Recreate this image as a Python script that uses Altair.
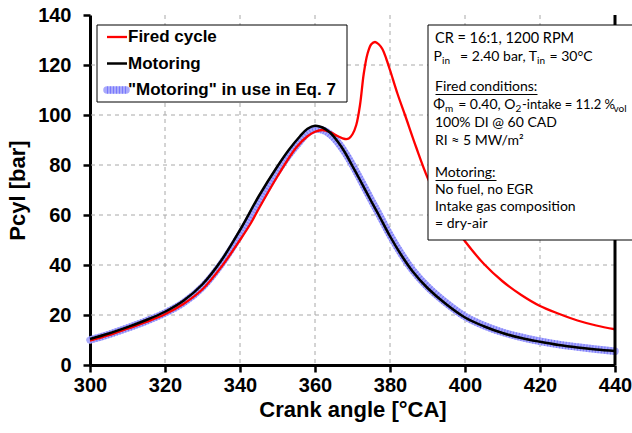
import altair as alt
import pandas as pd

# ---------------- data ----------------
mot_ca = [300, 305, 310, 315, 320, 325, 330, 335, 340, 345, 350, 353, 356, 358, 360, 362, 364, 366, 368,
          370, 372, 375, 377, 380, 383, 386, 390, 395, 400, 405, 410, 415, 420, 425, 430, 435, 440]
mot_p = [10.4, 12.6, 15.2, 18.0, 21.3, 25.8, 32.3, 41.8, 54.0, 67.5, 79.5, 86.0, 91.5, 94.5, 95.7, 95.0, 93.0,
         89.5, 85.0, 79.5, 74.0, 65.5, 60.0, 51.5, 44.0, 37.5, 30.8, 24.3, 19.0, 15.5, 12.8, 10.8, 9.3, 8.0,
         7.0, 6.2, 5.6]

fir_ca = [300, 305, 310, 315, 320, 325, 330, 335, 340, 343, 345, 350, 355, 358, 360, 362, 364, 366, 368, 369,
          370, 371, 372, 373, 374, 375, 376, 377, 378, 379, 380, 382, 384, 387, 390, 393, 396, 400, 405,
          410, 415, 420, 425, 430, 435, 440]
fir_p = [9.7, 11.9, 14.5, 17.2, 20.3, 24.5, 30.3, 39.2, 50.0, 57.0, 62.5, 75.5, 87.0, 91.5, 93.3, 94.0, 93.2,
         91.6, 90.4, 90.6, 92.3, 96.0, 104.0, 116.5, 124.5, 128.3, 129.2, 128.3, 126.3, 122.5, 118.0,
         108.5, 100.0, 87.0, 75.0, 65.5, 58.0, 49.5, 40.5, 33.5, 28.0, 23.6, 20.5, 17.8, 15.8, 14.3]

eq7_ca = [300, 305, 310, 315, 320, 325, 330, 335, 340, 345, 350, 353, 356, 358, 360, 362, 364, 366, 368,
          370, 372, 375, 377, 380, 383, 386, 390, 395, 400, 405, 410, 415, 420, 425, 430, 435, 440]
eq7_p = [10.0, 12.2, 14.8, 17.6, 20.8, 25.0, 31.2, 40.4, 52.0, 65.0, 77.5, 84.0, 89.5, 92.8, 94.3, 94.0, 92.3,
         89.2, 85.0, 80.0, 74.5, 66.0, 60.5, 52.0, 44.5, 38.0, 31.3, 24.8, 19.4, 15.8, 13.1, 11.1, 9.5, 8.2,
         7.2, 6.3, 5.5]

series_names = ["Fired cycle", "Motoring", "\"Motoring\" in use in Eq. 7"]
x_ticks = [300, 320, 340, 360, 380, 400, 420, 440]
y_ticks = [0, 20, 40, 60, 80, 100, 120, 140]
grid_x = [320, 340, 360, 380, 400, 420]
grid_y = [20, 40, 60, 80, 100, 120]

# ---------------- layout ----------------
L, T = 90, 15          # plot origin in page pixels
W, H = 525, 350
AX_FONT = "Liberation Sans"
ANN_FONT = "Lato"
INTERP = "catmull-rom"

xs = alt.Scale(domain=[300, 440], nice=False, zero=False)
ys = alt.Scale(domain=[0, 140], nice=False)

def df(ca, p):
    return pd.DataFrame({"ca": ca, "p": p})

xenc = alt.X("ca:Q", scale=xs, axis=alt.Axis(
    values=x_ticks, title="Crank angle [°CA]", grid=False, format="d"))
yenc = alt.Y("p:Q", scale=ys, axis=alt.Axis(
    values=y_ticks, title="Pcyl [bar]", grid=False, format="d"))
xq = alt.X("ca:Q", scale=xs)
yq = alt.Y("p:Q", scale=ys)

gx = alt.Chart(pd.DataFrame({"g": grid_x})).mark_rule(
    color="#a8a8a8", strokeWidth=1, strokeDash=[4, 4]).encode(x=alt.X("g:Q", scale=xs))
gy = alt.Chart(pd.DataFrame({"g": grid_y})).mark_rule(
    color="#a8a8a8", strokeWidth=1, strokeDash=[4, 4]).encode(y=alt.Y("g:Q", scale=ys))

BAND = "#a9a9fb"
DOTS = "#4a4aff"
eq7_base = alt.Chart(df(eq7_ca, eq7_p)).mark_line(
    color=BAND, strokeWidth=7.5, interpolate=INTERP, strokeCap="round").encode(x=xenc, y=yenc)
eq7_dots = alt.Chart(df(eq7_ca, eq7_p)).mark_line(
    color=DOTS, strokeWidth=7.5, strokeDash=[1, 2], opacity=0.5,
    interpolate=INTERP).encode(x=xq, y=yq)
fired = alt.Chart(df(fir_ca, fir_p)).mark_line(
    color="#ff0000", strokeWidth=2.3, interpolate=INTERP).encode(x=xq, y=yq)
motor = alt.Chart(df(mot_ca, mot_p)).mark_line(
    color="#000000", strokeWidth=2.5, interpolate=INTERP).encode(x=xq, y=yq)

right_border = alt.Chart(pd.DataFrame({"v": [440]})).mark_rule(
    color="black", strokeWidth=3).encode(x=alt.X("v:Q", scale=xs))

one = pd.DataFrame({"k": [0]})

def box(x1, y1, x2, y2, sw=1):
    return alt.Chart(one).mark_rect(fill="white", stroke="black", strokeWidth=sw).encode(
        x=alt.value(x1 - L), x2=alt.value(x2 - L), y=alt.value(y1 - T), y2=alt.value(y2 - T))

def hline(x1, x2, y, color="black", sw=1, dash=None, cap="butt", opacity=1.0):
    kw = dict(color=color, strokeWidth=sw, strokeCap=cap, opacity=opacity)
    if dash:
        kw["strokeDash"] = dash
    return alt.Chart(one).mark_rule(**kw).encode(
        x=alt.value(x1 - L), x2=alt.value(x2 - L), y=alt.value(y - T))

def txt(s, x, y, size=14, weight="normal", font=ANN_FONT, align="left"):
    return alt.Chart(pd.DataFrame({"t": [s]})).mark_text(
        align=align, baseline="middle", font=font, fontSize=size, fontWeight=weight,
        color="black").encode(x=alt.value(x - L), y=alt.value(y - T), text="t:N")

# legend
leg = [box(97, 25, 347, 102)]
leg += [hline(107, 127, 37, color="#ff0000", sw=2.3),
        hline(107, 127, 63.5, color="black", sw=2.5),
        hline(107, 126, 90, color=BAND, sw=7.5, cap="round"),
        hline(107, 126, 90, color=DOTS, sw=7.5, dash=[1, 2], opacity=0.5)]
leg_y = [37, 63.5, 90]
for name, yy in zip(series_names, leg_y):
    leg.append(txt(name, 128, yy, size=17, weight="bold", font=AX_FONT))

# annotation box
SUB = 10
ann = [box(428, 25, 640, 240)]
ann += [
    txt("CR = 16:1, 1200 RPM", 435, 38.5, size=14.5),
    txt("P", 442, 56.5, align="right"), txt("in", 442, 60.5, size=SUB),
    txt("= 2.40 bar, T", 537, 56.5, align="right"), txt("in", 537, 60.5, size=SUB),
    txt("= 30°C", 549.5, 56.5),
    txt("Fired conditions:", 435, 86.5),
    txt("Φ", 445, 105, align="right"), txt("m", 445, 109, size=SUB),
    txt("= 0.40, O", 515.5, 105, align="right"), txt("2", 515.5, 109, size=SUB),
    txt("-intake = 11.2 %", 522, 105, size=13), txt("vol", 613.5, 109, size=SUB),
    txt("100% DI @ 60 CAD", 435, 122.5),
    txt("RI ≈ 5 MW/m²", 435, 140.5),
    txt("Motoring:", 435, 172.5),
    txt("No fuel, no EGR", 435, 190),
    txt("Intake gas composition", 435, 206.5),
    txt("= dry-air", 435, 223.5),
    hline(435.5, 537.5, 94.5),
    hline(435.5, 496.5, 180.5),
]

chart = alt.layer(
    gx, gy, eq7_base, eq7_dots, fired, motor, right_border, *leg, *ann
).properties(
    width=W, height=H,
    autosize=alt.AutoSizeParams(type="none"),
    padding={"left": L, "top": T, "right": 632 - L - W, "bottom": 433 - T - H},
).configure_view(stroke=None).configure_axis(
    domainColor="black", domainWidth=3, tickColor="black", tickWidth=2.5, tickSize=7,
    labelFont=AX_FONT, labelFontSize=20, labelFontWeight="bold", labelColor="black",
    titleFont=AX_FONT, titleFontSize=22, titleFontWeight="bold", titleColor="black",
).configure_axisX(labelPadding=3, titlePadding=4, labelFlush=False
).configure_axisY(labelPadding=12, titlePadding=8)

chart.save("out.html", embed_options={"renderer": "svg", "actions": False})
